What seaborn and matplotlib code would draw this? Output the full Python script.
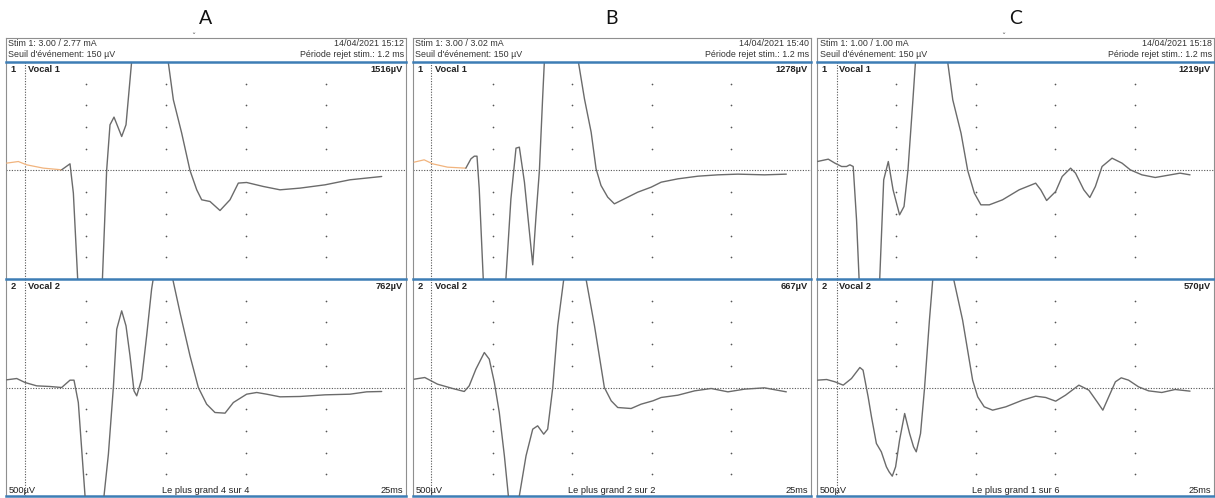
import matplotlib
matplotlib.use("Agg")
import matplotlib.pyplot as plt
import seaborn as sns
import numpy as np

# ---------------- data ----------------
PANELS = ["A", "B", "C"]
STIM_TEXT = ["Stim 1: 3.00 / 2.77 mA", "Stim 1: 3.00 / 3.02 mA", "Stim 1: 1.00 / 1.00 mA"]
DATE_TEXT = ["14/04/2021 15:12", "14/04/2021 15:40", "14/04/2021 15:18"]
SEUIL_TEXT = "Seuil d'événement: 150 µV"
REJET_TEXT = "Période rejet stim.: 1.2 ms"
AMP_V1 = ["1516µV", "1278µV", "1219µV"]
AMP_V2 = ["762µV", "667µV", "570µV"]
FOOTER = ["Le plus grand 4 sur 4", "Le plus grand 2 sur 2", "Le plus grand 1 sur 6"]
STIM_MS = [1.2, 1.15, 1.25]
ORANGE_END = [3.48, 3.32, None]   # pre-stimulus part of Vocal 1 drawn in orange
GRID_T = [5, 10, 15, 20]
GRID_V = [-2000, -1500, -1000, -500, 500, 1000, 1500, 2000]

A_V1_T = [0.04, 0.77, 1.29, 2.33, 3.48, 4.0, 4.21, 4.48, 4.9, 5.3, 5.7, 6.02, 6.29, 6.5, 6.75, 7.23, 7.5, 7.85,
          8.7, 9.2, 10.14, 10.46, 10.98, 11.5, 11.92, 12.23, 12.75, 13.375, 14.0, 14.52, 15.04, 16.08, 17.125,
          18.375, 19.94, 21.5, 23.48]
A_V1_V = [170, 207, 131, 55, 16, 154, -520, -2500, -5600, -6200, -5600, -2560, 0, 1053, 1230, 783, 1053, 2500,
          6000, 6300, 2500, 1629, 862, 0, -445, -675, -714, -922, -675, -290, -276, -368, -445, -406, -330, -214, -138]

A_V2_T = [0.04, 0.67, 1.19, 1.92, 2.75, 3.48, 4.0, 4.25, 4.52, 4.94, 5.42, 6.125, 6.40, 6.71, 6.92, 7.23, 7.5,
          7.75, 8.0, 8.17, 8.48, 8.79, 9.10, 9.2, 9.7, 10.42, 10.875, 11.5, 12.02, 12.54, 13.06, 13.69, 14.21,
          15.04, 15.67, 16.29, 17.125, 18.375, 19.94, 21.5, 22.54, 23.48]
A_V2_V = [177, 207, 115, 38, 23, 0, 169, 169, -346, -2500, -4900, -2500, -1536, 0, 1344, 1766, 1421, 730, -77,
          -192, 192, 1190, 2266, 2500, 3800, 2500, 1728, 730, 0, -384, -576, -591, -346, -154, -115, -154, -215,
          -207, -169, -154, -100, -92]

B_V1_T = [0.07, 0.70, 1.23, 2.17, 3.32, 3.64, 3.85, 4.02, 4.16, 4.41, 5.0, 5.84, 6.15, 6.47, 6.68, 7.0, 7.52,
          7.73, 7.94, 8.14, 8.25, 8.8, 10.39, 10.77, 11.19, 11.5, 11.81, 12.23, 12.65, 13.28, 14.12, 14.96,
          15.59, 16.64, 17.9, 19.15, 20.41, 22.08, 23.45]
B_V1_V = [192, 246, 154, 77, 54, 269, 330, 330, -422, -2473, -7000, -2473, -653, 515, 538, -269, -2173, -1037,
          0, 1651, 2500, 6000, 2500, 1651, 883, 38, -346, -614, -768, -653, -499, -384, -269, -192, -131, -100,
          -84, -100, -84]

B_V2_T = [0.08, 0.74, 1.54, 2.49, 3.22, 3.53, 3.95, 4.48, 4.79, 5.11, 5.42, 5.74, 5.99, 6.3, 6.68, 7.1, 7.52,
          7.83, 8.21, 8.46, 8.78, 9.09, 9.47, 10.1, 10.87, 11.4, 12.02, 12.45, 12.86, 13.7, 14.33, 15.07, 15.59,
          16.64, 17.69, 18.73, 19.78, 20.83, 22.08, 23.45]
B_V2_V = [192, 230, 77, -23, -92, 38, 422, 806, 653, 115, -576, -1574, -2496, -3300, -2496, -1574, -960, -883,
          -1075, -960, 0, 1421, 2496, 4000, 2496, 1421, 0, -307, -461, -484, -384, -307, -230, -177, -77, -23,
          -100, -38, -8, -100]

C_V1_T = [0.02, 0.71, 1.13, 1.55, 1.86, 2.07, 2.28, 2.49, 2.65, 3.3, 3.95, 4.2, 4.49, 4.79, 5.2, 5.48, 5.73,
          6.04, 6.2, 6.9, 8.23, 8.55, 9.07, 9.49, 9.91, 10.32, 10.85, 11.68, 12.73, 13.77, 14.09, 14.46, 15.03,
          15.44, 15.97, 16.28, 16.8, 17.18, 17.53, 17.95, 18.58, 19.21, 19.73, 20.46, 21.3, 22.13, 22.86, 23.49]
C_V1_V = [207, 261, 169, 92, 92, 131, 92, -1137, -2496, -8000, -2496, -215, 207, -445, -1021, -829, 15, 1628,
          2500, 6000, 2500, 1628, 860, 0, -522, -791, -791, -676, -445, -292, -445, -691, -484, -138, 54, -61,
          -445, -622, -369, 92, 284, 169, 15, -100, -161, -108, -61, -100]

C_V2_T = [0.02, 0.61, 1.13, 1.65, 2.17, 2.7, 2.9, 3.22, 3.43, 3.74, 4.05, 4.37, 4.54, 4.74, 4.95, 5.2, 5.52,
          5.83, 6.08, 6.25, 6.52, 6.77, 7.08, 7.29, 7.7, 8.61, 9.17, 9.8, 10.12, 10.53, 11.06, 11.89, 12.94,
          13.77, 14.4, 15.03, 15.65, 16.49, 17.12, 17.64, 18.0, 18.37, 18.79, 19.16, 19.62, 20.25, 20.88,
          21.71, 22.55, 23.49]
C_V2_V = [169, 184, 131, 54, 207, 461, 400, -215, -676, -1290, -1482, -1828, -1943, -2043, -1828, -1213, -599,
          -1060, -1367, -1482, -1060, -23, 1551, 2488, 4000, 2488, 1551, 169, -215, -445, -522, -445, -292, -200,
          -230, -315, -177, 54, -61, -330, -522, -215, 131, 223, 169, 15, -77, -115, -46, -84]

TRACES = [((A_V1_T, A_V1_V), (A_V2_T, A_V2_V)),
          ((B_V1_T, B_V1_V), (B_V2_T, B_V2_V)),
          ((C_V1_T, C_V1_V), (C_V2_T, C_V2_V))]

# ---------------- style / layout ----------------
sns.set_theme(style="white")
plt.rcParams["font.family"] = ["Liberation Sans", "DejaVu Sans"]

W, H = 1215, 498
fig = plt.figure(figsize=(W / 100, H / 100), dpi=100)
fig.patch.set_facecolor("white")

def fx(px):
    return px / W

def fy(py):
    return 1 - py / H

PANEL_PX = [(6, 406), (413, 811), (817, 1214)]
CARET_X = [193, None, 1003]
Y_HDR, Y_BLUE1, Y_MID, Y_BOT = 38, 62, 279, 496
BLUE = "#3d7db5"
BORDER = "#8f8f8f"
TRACE = "#6b6b6b"
ORANGE = "#f1b47e"
FS = 6.4

for i, (L, R) in enumerate(PANEL_PX):
    cx = (L + R) / 2
    fig.text(fx(cx), fy(18), PANELS[i], ha="center", va="center", fontsize=14,
             family=["Lato", "DejaVu Sans"], color="#111111")
    if CARET_X[i] is not None:
        fig.text(fx(CARET_X[i]), fy(37), "ˇ", ha="center", va="center", fontsize=6,
                 family=["DejaVu Sans"], color="#555555")
    # header
    hdr = fig.add_axes([fx(L), fy(Y_BLUE1), fx(R) - fx(L), (Y_BLUE1 - Y_HDR) / H])
    hdr.set_xticks([]); hdr.set_yticks([])
    for s in ["left", "right", "top"]:
        hdr.spines[s].set_color(BORDER); hdr.spines[s].set_linewidth(0.8)
    hdr.spines["bottom"].set_visible(False)
    fig.text(fx(L + 2.5), fy(44), STIM_TEXT[i], ha="left", va="center", fontsize=FS, color="#333333")
    fig.text(fx(L + 2.5), fy(54.5), SEUIL_TEXT, ha="left", va="center", fontsize=FS, color="#333333")
    fig.text(fx(R - 2), fy(44), DATE_TEXT[i], ha="right", va="center", fontsize=FS, color="#333333")
    fig.text(fx(R - 2), fy(54.5), REJET_TEXT, ha="right", va="center", fontsize=FS, color="#333333")

    for ch, (top, bot) in enumerate([(Y_BLUE1, Y_MID), (Y_MID, Y_BOT)]):
        ax = fig.add_axes([fx(L), fy(bot), fx(R) - fx(L), (bot - top) / H])
        ax.set_xlim(0, 25)
        ax.set_ylim(-2500, 2500)
        ax.set_xticks([]); ax.set_yticks([])
        ax.set_facecolor("white")
        for s in ["left", "right"]:
            ax.spines[s].set_color(BORDER); ax.spines[s].set_linewidth(0.8)
        ax.spines["top"].set_color(BLUE); ax.spines["top"].set_linewidth(1.8)
        if ch == 1:
            ax.spines["bottom"].set_color(BLUE); ax.spines["bottom"].set_linewidth(1.8)
        else:
            ax.spines["bottom"].set_visible(False)
        ax.spines["top"].set_zorder(5)

        # grid dots
        gt, gv = np.meshgrid(GRID_T, GRID_V)
        ax.scatter(gt.ravel(), gv.ravel(), s=1.5, color="#555555", linewidths=0, zorder=1)
        ax.axhline(0, color="#555555", lw=0.8, ls=(0, (1, 1.4)), zorder=1)
        ax.axvline(STIM_MS[i], color="#555555", lw=0.8, ls=(0, (1, 1.4)), zorder=1)

        t = np.array(TRACES[i][ch][0]); v = np.array(TRACES[i][ch][1])
        if ch == 0 and ORANGE_END[i] is not None:
            m = t <= ORANGE_END[i]
            sns.lineplot(x=t[m], y=v[m], ax=ax, color=ORANGE, lw=0.9, sort=False, estimator=None, zorder=3)
            k = np.where(m)[0][-1]
            sns.lineplot(x=t[k:], y=v[k:], ax=ax, color=TRACE, lw=1.0, sort=False, estimator=None, zorder=3)
        else:
            sns.lineplot(x=t, y=v, ax=ax, color=TRACE, lw=1.0, sort=False, estimator=None, zorder=3)
        ax.set_xlabel(""); ax.set_ylabel("")

        ylab = top + 7
        fig.text(fx(L + 7), fy(ylab), str(ch + 1), ha="center", va="center", fontsize=FS + 0.3,
                 weight="bold", color="#222222")
        fig.text(fx(L + 22), fy(ylab), f"Vocal {ch + 1}", ha="left", va="center", fontsize=FS + 0.3,
                 weight="bold", color="#222222")
        fig.text(fx(R - 3), fy(ylab), (AMP_V1 if ch == 0 else AMP_V2)[i], ha="right", va="center",
                 fontsize=FS + 0.3, weight="bold", color="#222222")
        if ch == 1:
            fig.text(fx(L + 3), fy(490), "500µV", ha="left", va="center", fontsize=FS + 0.3, color="#222222")
            fig.text(fx(cx), fy(490), FOOTER[i], ha="center", va="center", fontsize=FS + 0.3, color="#222222")
            fig.text(fx(R - 3), fy(490), "25ms", ha="right", va="center", fontsize=FS + 0.3, color="#222222")

fig.savefig("out.png", dpi=100, facecolor="white")
